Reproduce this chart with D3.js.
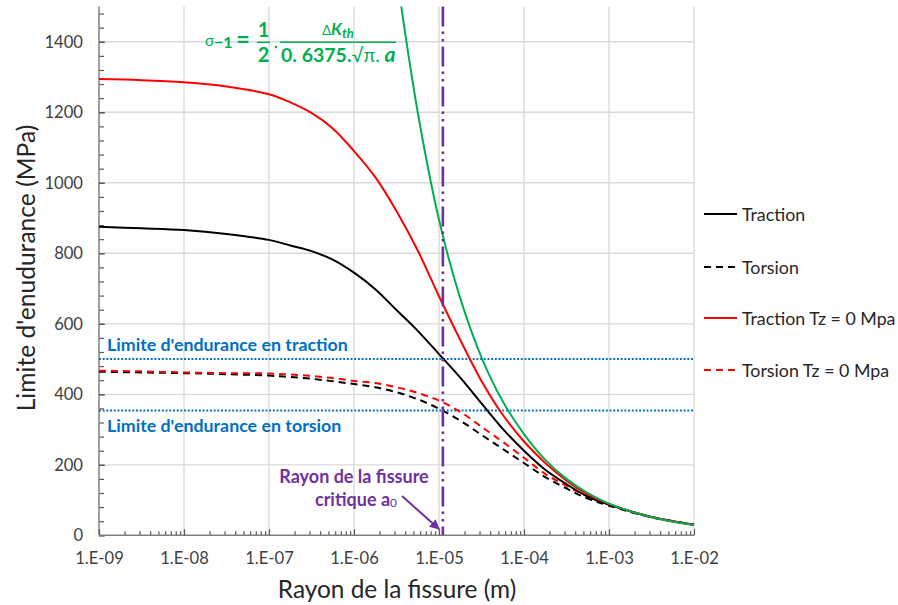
<!DOCTYPE html>
<html>
<head>
<meta charset="utf-8">
<script src="https://cdnjs.cloudflare.com/ajax/libs/d3/7.8.5/d3.min.js"></script>
<style>
  body { margin: 0; background: #fff; }
  svg { display: block; font-family: Lato, "Open Sans", sans-serif; }
</style>
</head>
<body>
<svg id="chart" width="898" height="605"></svg>
<script>
// ---------- DATA ----------
const radius = [1e-9, 3.16e-9, 1e-8, 3.16e-8, 1e-7, 1.78e-7, 3.16e-7, 5.62e-7, 1e-6, 1.78e-6, 3.16e-6, 5.62e-6,
                1e-5, 1.78e-5, 3.16e-5, 5.62e-5, 1e-4, 1.78e-4, 3.16e-4, 5.62e-4, 1e-3, 3.16e-3, 1e-2];
const traction   = [875, 871, 866, 855, 838, 822, 806, 782, 745, 698, 639, 580, 514, 447, 374, 302, 240, 186, 145, 110, 87, 52, 30];
const torsion    = [464, 462, 460, 457, 453, 449, 444, 437, 429, 420, 406, 386, 359, 325, 285, 245, 205, 165, 133, 104, 84, 51, 30];
const tractionTz = [1294, 1291, 1285, 1273, 1251, 1228, 1198, 1154, 1090, 1016, 920, 808, 678, 554, 438, 342, 266, 205, 155, 116, 89, 52, 30];
const torsionTz  = [467, 465, 462, 460, 459, 456, 452, 446, 438, 432, 420, 404, 382, 350, 308, 265, 220, 174, 140, 110, 87, 52, 30];
const radiusGreen = [3.5e-6, 5.62e-6, 1e-5, 1.78e-5, 3.16e-5, 5.62e-5, 1e-4, 1.78e-4, 3.16e-4, 5.62e-4, 1e-3, 3.16e-3, 1e-2];
const formulaCurve = [1520, 1200, 895, 672, 505, 380, 287, 214, 160, 120, 90, 51, 29];

const enduranceTraction = 500;
const enduranceTorsion = 354;
const criticalRadius = 1.11e-5;

const xTickValues = [1e-9, 1e-8, 1e-7, 1e-6, 1e-5, 1e-4, 1e-3, 1e-2];
const xTickLabels = ["1.E-09", "1.E-08", "1.E-07", "1.E-06", "1.E-05", "1.E-04", "1.E-03", "1.E-02"];
const yTickValues = [0, 200, 400, 600, 800, 1000, 1200, 1400];

const seriesNames = ["Traction", "Torsion", "Traction Tz = 0 Mpa", "Torsion Tz = 0 Mpa"];

// ---------- CHART ----------
const svg = d3.select("#chart");
svg.append("rect").attr("width", 898).attr("height", 605).attr("fill", "#fff");

const x = d3.scaleLog().domain([1e-9, 1e-2]).range([99, 694]);
const y = d3.scaleLinear().domain([0, 1500]).range([535.3, 6.5]);

const GRID = "#d9d9d9";
svg.append("g").selectAll("line").data(xTickValues.slice(1)).join("line")
  .attr("x1", d => x(d)).attr("x2", d => x(d)).attr("y1", y(1500)).attr("y2", y(0))
  .attr("stroke", GRID).attr("stroke-width", 1.3);
svg.append("g").selectAll("line").data(yTickValues.slice(1)).join("line")
  .attr("x1", x(1e-9)).attr("x2", x(1e-2)).attr("y1", d => y(d)).attr("y2", d => y(d))
  .attr("stroke", GRID).attr("stroke-width", 1.3);

const clip = svg.append("clipPath").attr("id", "plotclip");
clip.append("rect").attr("x", 99).attr("y", y(1500)).attr("width", 596).attr("height", y(0) - y(1500));

// minor ticks
const yMinor = d3.range(0, 1501, 40);
const xMinor = [];
xTickValues.slice(0, -1).forEach(d => { for (let k = 2; k <= 9; k++) xMinor.push(k * d); });

const AXIS = "#7f7f7f";
const TICKTXT = "#404040";

const yAxisMinor = svg.append("g").attr("transform", "translate(99,0)")
  .call(d3.axisLeft(y).tickValues(yMinor).tickSize(-5).tickFormat(""));
const yAxis = svg.append("g").attr("transform", "translate(99,0)")
  .call(d3.axisLeft(y).tickValues(yTickValues).tickSize(-6).tickPadding(16).tickFormat(d3.format("d")));
const xAxisMinor = svg.append("g").attr("transform", `translate(0,${y(0)})`)
  .call(d3.axisBottom(x).tickValues(xMinor).tickSize(-4).tickFormat(""));
const xAxis = svg.append("g").attr("transform", `translate(0,${y(0)})`)
  .call(d3.axisBottom(x).tickValues(xTickValues).tickSize(-6).tickPadding(17).tickFormat((d, i) => xTickLabels[i]));

[yAxisMinor, yAxis, xAxisMinor, xAxis].forEach(g => {
  g.selectAll(".domain").attr("stroke", AXIS).attr("stroke-width", 1.5);
  g.selectAll(".tick line").attr("stroke", "#595959").attr("stroke-width", 1.2);
  g.selectAll("text").attr("fill", TICKTXT).attr("font-size", "16.6px").attr("font-family", "Lato, sans-serif");
});
yAxis.select(".domain").attr("d", `M0,${y(1500)}V${y(0)}`);
yAxisMinor.select(".domain").remove();
xAxisMinor.select(".domain").remove();
xAxis.select(".domain").attr("d", `M99,0H694`);

// endurance limit lines
const BLUE = "#0070C0";
[enduranceTraction, enduranceTorsion].forEach(v => {
  svg.append("line").attr("x1", x(1e-9)).attr("x2", x(1e-2)).attr("y1", y(v)).attr("y2", y(v))
    .attr("stroke", BLUE).attr("stroke-width", 1.9).attr("stroke-dasharray", "1.9,1.8");
});

const line = d3.line().x(d => x(d[0])).y(d => y(d[1])).curve(d3.curveCatmullRom.alpha(0.5));
const zip = (xs, ys) => xs.map((v, i) => [v, ys[i]]);

const series = [
  { vals: torsion, color: "#000", dash: "7,5" },
  { vals: torsionTz, color: "#ff0000", dash: "7,5" },
  { vals: traction, color: "#000", dash: null },
  { vals: tractionTz, color: "#ff0000", dash: null }
];
const plot = svg.append("g").attr("clip-path", "url(#plotclip)");
series.forEach(s => {
  plot.append("path").attr("d", line(zip(radius, s.vals))).attr("fill", "none")
    .attr("stroke", s.color).attr("stroke-width", 2).attr("stroke-dasharray", s.dash);
});
plot.append("path").attr("d", line(zip(radiusGreen, formulaCurve))).attr("fill", "none")
  .attr("stroke", "#00B050").attr("stroke-width", 2);

// critical radius line
const PURPLE = "#7030A0";
svg.append("line").attr("x1", x(criticalRadius)).attr("x2", x(criticalRadius))
  .attr("y1", y(1500)).attr("y2", y(0))
  .attr("stroke", PURPLE).attr("stroke-width", 2.6).attr("stroke-dasharray", "20,5,2.5,5,2.5,5");

// annotations
svg.append("text").attr("x", 107).attr("y", 351).attr("fill", BLUE).attr("font-weight", "bold")
  .attr("font-size", "17.8px").text("Limite d'endurance\u2005en traction");
svg.append("text").attr("x", 107).attr("y", 432).attr("fill", BLUE).attr("font-weight", "bold")
  .attr("font-size", "17.8px").text("Limite d'endurance\u2005en torsion");

svg.append("text").attr("x", 354).attr("y", 483).attr("fill", PURPLE).attr("font-weight", "bold")
  .attr("font-size", "18px").attr("text-anchor", "middle").text("Rayon de la fissure");
const crit = svg.append("text").attr("x", 356).attr("y", 506).attr("fill", PURPLE).attr("font-weight", "bold")
  .attr("font-size", "18px").attr("text-anchor", "middle");
crit.append("tspan").text("critique a");
crit.append("tspan").attr("font-size", "12px").attr("font-weight", "normal").attr("dy", 1).text("0");

const defs = svg.append("defs");
defs.append("marker").attr("id", "arrow").attr("viewBox", "0 0 10 10").attr("refX", 9).attr("refY", 5)
  .attr("markerWidth", 5).attr("markerHeight", 5).attr("orient", "auto")
  .append("path").attr("d", "M0,0L10,5L0,10z").attr("fill", PURPLE);
svg.append("line").attr("x1", 402).attr("y1", 496).attr("x2", 439).attr("y2", 529)
  .attr("stroke", PURPLE).attr("stroke-width", 2).attr("marker-end", "url(#arrow)");

// formula
const GREEN = "#00B050";
const fg = svg.append("g").attr("fill", GREEN).attr("font-weight", "bold");
const sig = fg.append("text").attr("x", 205).attr("y", 46);
sig.append("tspan").attr("font-size", "15px").attr("font-weight", "normal").text("σ");
sig.append("tspan").attr("font-size", "16px").attr("dy", 2).text("\u22121");
fg.append("text").attr("x", 236).attr("y", 48).attr("font-size", "24px").text("=");
fg.append("text").attr("x", 263.5).attr("y", 37).attr("font-size", "20px").attr("text-anchor", "middle").text("1");
fg.append("text").attr("x", 263.5).attr("y", 62).attr("font-size", "20px").attr("text-anchor", "middle").text("2");
fg.append("line").attr("x1", 257).attr("x2", 270).attr("y1", 42.3).attr("y2", 42.3).attr("stroke", GREEN).attr("stroke-width", 1.5);
fg.append("circle").attr("cx", 276).attr("cy", 47).attr("r", 1.3);
fg.append("line").attr("x1", 280).attr("x2", 396).attr("y1", 42.3).attr("y2", 42.3).attr("stroke", GREEN).attr("stroke-width", 1.5);
const num = fg.append("text").attr("x", 338).attr("y", 35).attr("text-anchor", "middle");
num.append("tspan").attr("font-size", "13px").attr("font-weight", "normal").text("Δ");
num.append("tspan").attr("font-size", "17px").attr("font-style", "italic").text("K");
num.append("tspan").attr("font-size", "13px").attr("font-style", "italic").attr("dy", 3).text("th");
const den = fg.append("text").attr("x", 281).attr("y", 62).attr("font-size", "19.5px");
den.append("tspan").text("0. 6375.");
den.append("tspan").attr("font-weight", "normal").attr("font-size", "19px").text("√π. ");
den.append("tspan").attr("font-style", "italic").attr("font-size", "21px").text("a");

// axis titles
svg.append("text").attr("transform", "translate(35,268) rotate(-90)").attr("text-anchor", "middle")
  .attr("font-size", "24.6px").attr("fill", "#262626").text("Limite d'enudurance (MPa)");
svg.append("text").attr("x", 397).attr("y", 598).attr("text-anchor", "middle")
  .attr("font-size", "24.4px").attr("fill", "#262626").text("Rayon de la fissure (m)");

// legend
const legY = [214, 267, 318, 370];
const legStyles = [
  { color: "#000", dash: null },
  { color: "#000", dash: "7,5" },
  { color: "#ff0000", dash: null },
  { color: "#ff0000", dash: "7,5" }
];
const legend = svg.append("g");
seriesNames.forEach((name, i) => {
  legend.append("line").attr("x1", 704).attr("x2", 737).attr("y1", legY[i]).attr("y2", legY[i])
    .attr("stroke", legStyles[i].color).attr("stroke-width", 2).attr("stroke-dasharray", legStyles[i].dash);
  legend.append("text").attr("x", 742).attr("y", legY[i] + 6.5).attr("font-size", "17.8px")
    .attr("fill", "#262626").text(name);
});
</script>
</body>
</html>
